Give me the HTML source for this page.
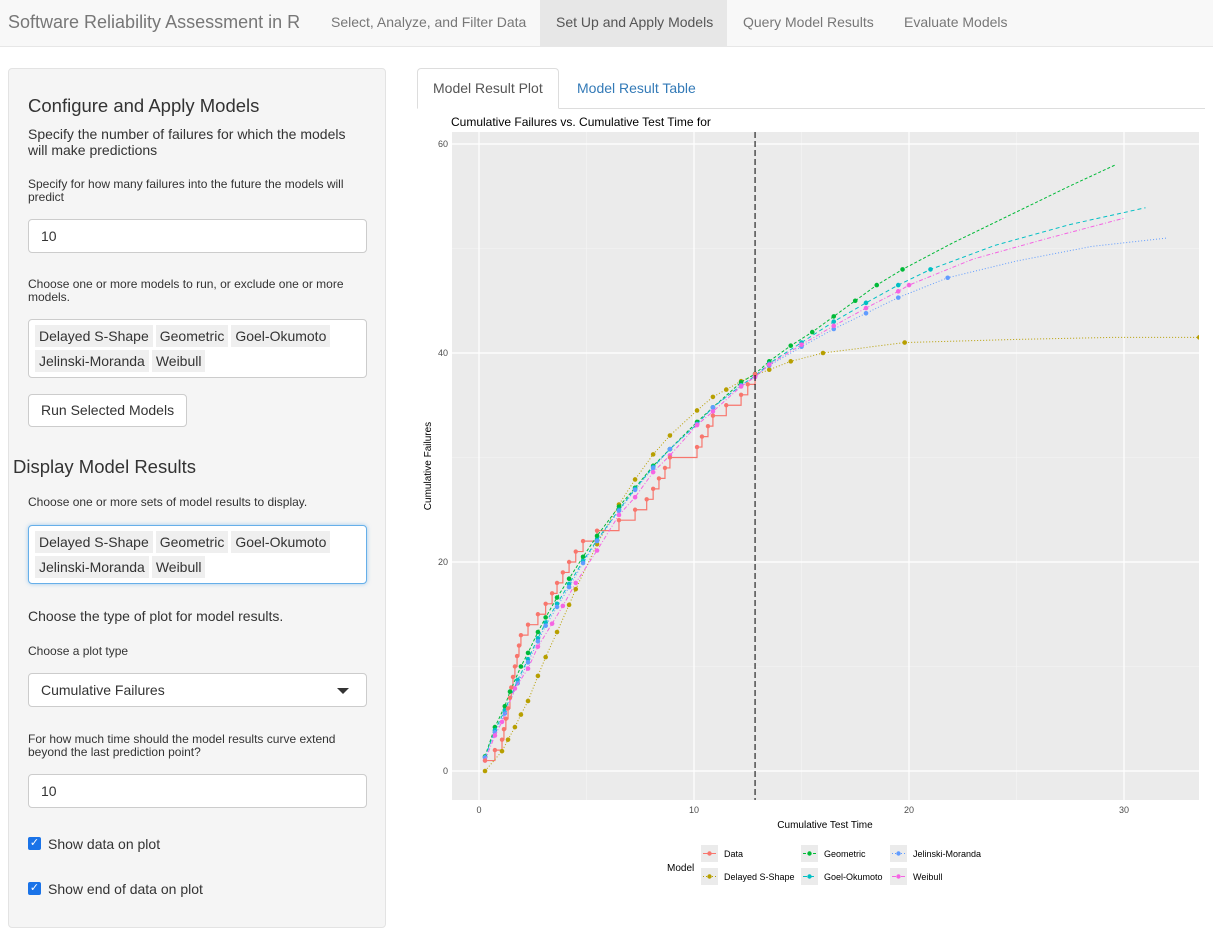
<!DOCTYPE html>
<html><head><meta charset="utf-8"><style>
*{box-sizing:border-box}
body{margin:0;width:1213px;height:920px;overflow:hidden;background:#fff;font-family:"Liberation Sans",Arial,sans-serif;color:#333;position:relative}
.abs{position:absolute}
.nav{left:0;top:0;width:1213px;height:47px;background:#f8f8f8;border-bottom:1px solid #e7e7e7}
.brand{left:8px;top:12px;font-size:18px;color:#777}
.nl{top:14px;font-size:14px;color:#777}
.well{left:8px;top:68px;width:378px;height:860px;background:#f5f5f5;border:1px solid #e3e3e3;border-radius:4px}
.h3{font-size:18.5px;color:#333}
.p14{font-size:14px;line-height:16px}
.p12{font-size:12px;line-height:13px}
.inp{background:#fff;border:1px solid #ccc;border-radius:4px;font-size:14px;padding:8px 12px}
.tag{display:inline-block;background:#efefef;padding:2px 4px;margin:0 3px 3px 0;font-size:14px;line-height:18px;color:#333}
.sel{background:#fff;border:1px solid #ccc;border-radius:4px;padding:5px 6px 2px 6px}
.btn{background:#fff;border:1px solid #ccc;border-radius:4px;font-size:14px;padding:7px 12px;white-space:nowrap}
.cb{width:13px;height:13px;background:#1a73e8;border-radius:2px;color:#fff;font-size:11px;line-height:13px;text-align:center}
</style></head><body>
<div class="abs nav"></div>
<div class="abs brand">Software Reliability Assessment in R</div>
<div class="abs nl" style="left:331px">Select, Analyze, and Filter Data</div>
<div class="abs" style="left:540px;top:0;width:187px;height:46px;background:#e7e7e7"></div>
<div class="abs nl" style="left:556px;color:#555">Set Up and Apply Models</div>
<div class="abs nl" style="left:743px">Query Model Results</div>
<div class="abs nl" style="left:904px">Evaluate Models</div>

<div class="abs well"></div>
<div class="abs h3" style="left:28px;top:95px">Configure and Apply Models</div>
<div class="abs p14" style="left:28px;top:126px;width:340px">Specify the number of failures for which the models will make predictions</div>
<div class="abs p12" style="left:28px;top:178px;width:340px">Specify for how many failures into the future the models will predict</div>
<div class="abs inp" style="left:28px;top:219px;width:339px;height:34px">10</div>
<div class="abs p12" style="left:28px;top:278px;width:340px">Choose one or more models to run, or exclude one or more models.</div>
<div class="abs sel" style="left:28px;top:319px;width:339px;height:59px"><span class="tag">Delayed S-Shape</span><span class="tag">Geometric</span><span class="tag">Goel-Okumoto</span><span class="tag">Jelinski-Moranda</span><span class="tag">Weibull</span></div>
<div class="abs btn" style="left:28px;top:394px;width:159px;height:33px">Run Selected Models</div>
<div class="abs h3" style="left:13px;top:456px">Display Model Results</div>
<div class="abs p12" style="left:28px;top:496px">Choose one or more sets of model results to display.</div>
<div class="abs sel" style="left:28px;top:525px;width:339px;height:59px;border-color:#66afe9;box-shadow:0 0 4px rgba(102,175,233,.6)"><span class="tag">Delayed S-Shape</span><span class="tag">Geometric</span><span class="tag">Goel-Okumoto</span><span class="tag">Jelinski-Moranda</span><span class="tag">Weibull</span></div>
<div class="abs p14" style="left:28px;top:608px">Choose the type of plot for model results.</div>
<div class="abs p12" style="left:28px;top:645px">Choose a plot type</div>
<div class="abs inp" style="left:28px;top:673px;width:339px;height:34px">Cumulative Failures<span style="position:absolute;right:17px;top:14px;border-left:6px solid transparent;border-right:6px solid transparent;border-top:6px solid #333"></span></div>
<div class="abs p12" style="left:28px;top:733px;width:340px">For how much time should the model results curve extend beyond the last prediction point?</div>
<div class="abs inp" style="left:28px;top:774px;width:339px;height:34px">10</div>
<div class="abs cb" style="left:28px;top:837px">✓</div>
<div class="abs p14" style="left:48px;top:836px">Show data on plot</div>
<div class="abs cb" style="left:28px;top:882px">✓</div>
<div class="abs p14" style="left:48px;top:881px">Show end of data on plot</div>

<div class="abs" style="left:417px;top:108px;width:788px;height:1px;background:#ddd"></div>
<div class="abs" style="left:417px;top:68px;width:142px;height:41px;background:#fff;border:1px solid #ddd;border-bottom-color:#fff;border-radius:4px 4px 0 0;font-size:14px;color:#555;padding:11px 15px">Model Result Plot</div>
<div class="abs" style="left:577px;top:80px;font-size:14px;color:#337ab7">Model Result Table</div>

<svg class="abs" style="left:0;top:0" width="1213" height="920" font-family="Liberation Sans, Arial, sans-serif">
<g id="chart"></g>
</svg>
<script>
const dataT=[0.28,0.74,1.07,1.16,1.25,1.35,1.44,1.5,1.58,1.67,1.77,1.86,1.95,2.28,2.74,3.1,3.4,3.63,3.9,4.19,4.5,4.84,5.49,6.51,7.26,7.8,8.1,8.37,8.65,8.88,10.14,10.37,10.65,10.88,11.5,12.19,12.5,12.84];
const dataY=[1,2,3,4,5,6,7,8,9,10,11,12,13,14,15,16,17,18,19,20,21,22,23,24,25,26,27,28,29,30,31,32,33,34,35,36,37,38];
const modelNames=["Delayed S-Shape","Geometric","Goel-Okumoto","Jelinski-Moranda","Weibull"];
const dssT=[0.28,1.07,1.35,1.67,1.95,2.28,2.74,3.1,3.63,4.19,4.5,5.49,6.51,7.26,8.1,8.88,10.14,10.88,11.5,12.19,12.84,13.5,14.5,16,19.8,33.5];
const dssY=[0,1.9,3,4.2,5.4,6.7,9.1,10.9,13.3,15.9,17.4,21.7,25.5,27.9,30.3,32.1,34.5,35.8,36.5,37.3,37.9,38.4,39.2,40,41,41.5];
const dssExtT=[25,29.6];const dssExtY=[41.3,41.5];
const geoT=[0.28,0.74,1.2,1.44,1.95,2.28,2.74,3.1,3.63,4.19,4.84,5.49,6.51,7.26,8.1,8.88,10.14,10.88,12.19,12.84,13.5,14.5,15.5,16.5,17.5,18.5,19.7];
const geoY=[1.4,4.2,6.2,7.6,10,11.3,13.3,14.7,16.6,18.4,20.5,22.5,25.3,27.1,29.2,30.8,33.4,34.8,37.2,38,39.2,40.7,42,43.5,45,46.5,48];
const geoExtT=[22,25,27.5,29.6];const geoExtY=[50.5,53.5,56,58];
const goT=[0.28,0.74,1.2,1.8,2.28,2.74,3.1,3.63,4.19,4.84,5.49,6.51,7.26,8.1,8.88,10.14,10.88,12.19,12.84,13.5,15,16.5,18,19.5,21];
const goY=[1.3,3.9,5.8,8.7,10.7,12.7,14.2,16,17.9,20.1,22.1,25,27,29.1,30.8,33.2,34.8,36.9,37.8,39,41,43,44.8,46.5,48];
const goExtT=[24,27.5,31];const goExtY=[50.3,52.3,53.9];
const jmT=[0.28,0.74,1.2,1.8,2.28,2.74,3.1,3.63,4.19,4.84,5.49,6.51,7.26,8.1,8.88,10.14,10.88,12.19,12.84,13.5,15,16.5,18,19.5,21.8];
const jmY=[1.3,3.7,5.5,8.4,10.4,12.4,13.9,15.7,17.6,19.9,22,24.9,26.9,29,30.8,33.2,34.8,36.9,37.8,38.8,40.6,42.3,43.8,45.3,47.2];
const jmExtT=[25,28.5,32];const jmExtY=[48.8,50.2,51];
const wbT=[0.28,0.74,1.07,1.67,2.28,2.74,3.4,3.9,4.5,5.49,6.51,7.26,8.1,8.88,10.14,10.88,12.19,12.84,13.5,15,16.5,18,19.5,20];
const wbY=[1,3.4,4.7,7.9,9.8,11.9,14.1,15.8,18,21.1,24.5,26.2,28.6,30.2,33.1,34.4,36.8,37.7,38.9,40.8,42.6,44.3,45.9,46.5];
const wbExtT=[23,26.5,30];const wbExtY=[49,51,52.9];
const xTicks=[0,10,20,30];const yTicks=[0,20,40,60];
const endOfData=12.84;

const X0=452,X1=1199,Y0=132,Y1=800;
const sx=t=>479+t*21.5;
const sy=v=>771-v*10.45;
const NS="http://www.w3.org/2000/svg";
const g=document.getElementById('chart');
function mk(tag,at,parent){const e=document.createElementNS(NS,tag);for(const k in at)e.setAttribute(k,at[k]);(parent||g).appendChild(e);return e;}
let e;
e=mk('rect',{x:X0,y:Y0,width:X1-X0,height:Y1-Y0,fill:'#ebebeb'});


const defs=mk('clipPath',{id:'cp'});mk('rect',{x:X0,y:Y0,width:X1-X0,height:Y1-Y0},defs);
for(let v=5;v<40;v+=10){e=mk('line',{x1:sx(v),x2:sx(v),y1:Y0,y2:Y1,stroke:'#f5f5f5','stroke-width':0.6});}
for(let v=10;v<70;v+=20){e=mk('line',{x1:X0,x2:X1,y1:sy(v),y2:sy(v),stroke:'#f5f5f5','stroke-width':0.6});}
xTicks.forEach(v=>{e=mk('line',{x1:sx(v),x2:sx(v),y1:Y0,y2:Y1,stroke:'#fff','stroke-width':1.2});
 e=mk('text',{x:sx(v),y:Y1+13,'font-size':9,fill:'#4d4d4d','text-anchor':'middle'});e.textContent=v;});
yTicks.forEach(v=>{e=mk('line',{x1:X0,x2:X1,y1:sy(v),y2:sy(v),stroke:'#fff','stroke-width':1.2});
 e=mk('text',{x:X0-4,y:sy(v)+3,'font-size':9,fill:'#4d4d4d','text-anchor':'end'});e.textContent=v;});
const cg=mk('g',{'clip-path':'url(#cp)'});
function series(T,Y,ET,EY,col,dash,name){
 let pts=T.map((t,i)=>[t,Y[i]]).concat(ET.map((t,i)=>[t,EY[i]])).sort((a,b)=>a[0]-b[0]);
 e=mk('polyline',{points:pts.map(p=>sx(p[0])+','+sy(p[1])).join(' '),fill:'none',stroke:col,'stroke-width':1,'stroke-dasharray':dash},cg);
 
 T.forEach((t,i)=>{e=mk('circle',{cx:sx(t),cy:sy(Y[i]),r:2.3,fill:col},cg);});
}
let d='M'+sx(dataT[0])+','+sy(dataY[0]);
for(let i=1;i<dataT.length;i++){d+=' H'+sx(dataT[i])+' V'+sy(dataY[i]);}
e=mk('path',{d:d,fill:'none',stroke:'#f8766d','stroke-width':1.2},cg);

series(dssT,dssY,dssExtT,dssExtY,'#b79f00','1 2','delayed-s-shape');
series(geoT,geoY,geoExtT,geoExtY,'#00ba38','3 2','geometric');
series(goT,goY,goExtT,goExtY,'#00bfc4','4 3','goel-okumoto');
series(jmT,jmY,jmExtT,jmExtY,'#619cff','1 2','jelinski-moranda');
series(wbT,wbY,wbExtT,wbExtY,'#f564e3','4 2 1 2','weibull');
dataT.forEach((t,i)=>{e=mk('circle',{cx:sx(t),cy:sy(dataY[i]),r:2.2,fill:'#f8766d'},cg);});
e=mk('line',{x1:sx(endOfData),x2:sx(endOfData),y1:Y0,y2:Y1,stroke:'#000','stroke-width':1,'stroke-dasharray':'6 3'});

e=mk('text',{x:451,y:126,'font-size':12,fill:'#000'});e.textContent='Cumulative Failures vs. Cumulative Test Time for';

e=mk('text',{x:825,y:828,'font-size':10,fill:'#000','text-anchor':'middle'});e.textContent='Cumulative Test Time';

e=mk('text',{x:0,y:0,'font-size':10,fill:'#000','text-anchor':'middle',transform:'translate(431,466) rotate(-90)'});e.textContent='Cumulative Failures';

e=mk('text',{x:667,y:871,'font-size':10,fill:'#000'});e.textContent='Model';

const legNames=["Data","Delayed S-Shape","Geometric","Goel-Okumoto","Jelinski-Moranda","Weibull"];
const legCols=['#f8766d','#b79f00','#00ba38','#00bfc4','#619cff','#f564e3'];
const legDash=['','1 2','3 2','4 3','1 2','4 2 1 2'];
const lx=[701,801,890],ly=[845,868];
legNames.forEach((n,i)=>{const c=Math.floor(i/2),r=i%2;const x=lx[c],y=ly[r];
 const lg=mk('g',{});
 mk('rect',{x:x,y:y,width:17,height:17,fill:'#ebebeb'},lg);
 mk('line',{x1:x+2,x2:x+15,y1:y+8.5,y2:y+8.5,stroke:legCols[i],'stroke-width':1,'stroke-dasharray':legDash[i]},lg);
 mk('circle',{cx:x+8.5,cy:y+8.5,r:2.2,fill:legCols[i]},lg);
 const t=mk('text',{x:x+23,y:y+12,'font-size':9,fill:'#000'},lg);t.textContent=n;});
</script>
</body></html>
